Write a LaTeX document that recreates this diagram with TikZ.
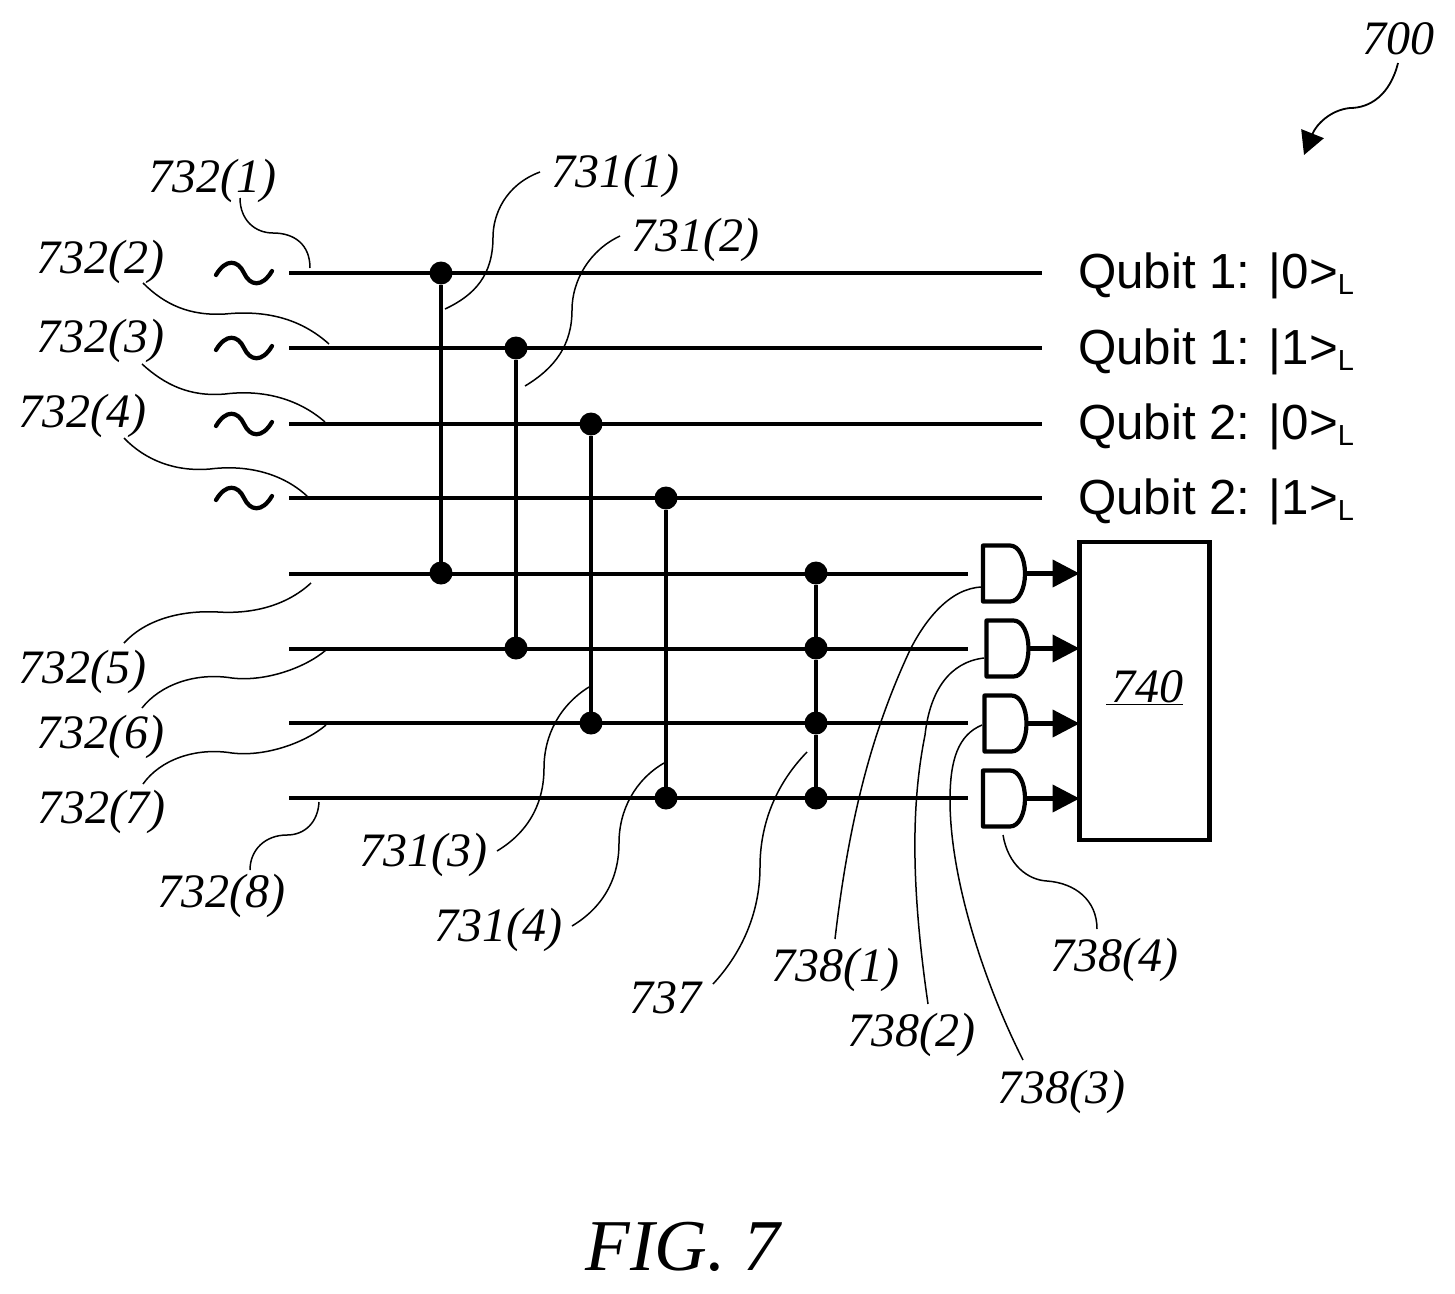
\documentclass[tikz,border=0pt]{standalone}
\usepackage{fontspec}
\setmainfont{Liberation Serif}
\newfontfamily\qubitfont{Liberation Sans}
\usetikzlibrary{arrows.meta}
\newcommand{\gatesym}[2]{%
  \node[gatebox] (#1) at (#2) {};
  \draw[wire, line join=round, shift={(#2)}] (-21,-28) -- (6,-28) .. controls (15,-28) and (21,-15) .. (21,0) .. controls (21,15) and (15,28) .. (6,28) -- (-21,28) -- cycle;}
\newcommand{\qubitlabel}[3]{\node[qtext] (#1) at (1078,#2) {#3\raisebox{-6pt}{\fontsize{29}{29}\selectfont L}};}
\begin{document}
\begin{tikzpicture}[x=1pt,y=-1pt,
  wire/.style={line width=4.2pt},
  leader/.style={line width=1.5pt},
  dotnode/.style={circle,fill=black,draw=none,minimum size=23pt,inner sep=0pt,outer sep=0pt},
  refl/.style={anchor=base,inner sep=0pt,outer sep=0pt,font=\fontsize{48}{48}\selectfont\itshape},
  qtext/.style={anchor=base west,inner sep=0pt,outer sep=0pt,font=\qubitfont\fontsize{49.3}{50}\selectfont},
  gatebox/.style={minimum width=42pt,minimum height=56pt,inner sep=0pt,outer sep=0pt},
  sigbox/.style={draw,line width=4.2pt,minimum width=130pt,minimum height=298pt,inner sep=0pt,outer sep=0pt},
  arrowout/.style={wire,-{Triangle[length=27pt,width=27pt]}},
]
\useasboundingbox[fill=white] (0,0) rectangle (1455,1293);
% wires
\foreach \n/\y/\xe in {1/273/1042,2/348/1042,3/424/1042,4/498/1042,5/574/968,6/649/968,7/723/968,8/798/968}{
  \coordinate (ws\n) at (289,\y);
  \coordinate (we\n) at (\xe,\y);
  \draw[wire] (ws\n) -- (we\n);
}
% tildes
\foreach \y in {273,348,424,498}{
  \draw[wire,line cap=round] (216,\y+2) .. controls (226,\y-15) and (238,\y-13) .. (244,\y) .. controls (250,\y+13) and (262,\y+15) .. (272,\y-2);
}
% dots and verticals
\node[dotnode] (a1) at (441,273) {};
\node[dotnode] (b1) at (441,573) {};
\node[dotnode] (a2) at (516,348) {};
\node[dotnode] (b2) at (516,648) {};
\node[dotnode] (a3) at (591,424) {};
\node[dotnode] (b3) at (591,723) {};
\node[dotnode] (a4) at (666,498) {};
\node[dotnode] (b4) at (666,798) {};
\node[dotnode] (m1) at (816,573) {};
\node[dotnode] (m2) at (816,648) {};
\node[dotnode] (m3) at (816,723) {};
\node[dotnode] (m4) at (816,798) {};
\draw[wire] (a1) -- (b1);
\draw[wire] (a2) -- (b2);
\draw[wire] (a3) -- (b3);
\draw[wire] (a4) -- (b4);
\draw[wire] (m1) -- (m2);
\draw[wire] (m2) -- (m3);
\draw[wire] (m3) -- (m4);
% gates and box
\gatesym{g1}{1004,573.5}
\gatesym{g2}{1007.5,648.5}
\gatesym{g3}{1005.5,723.5}
\gatesym{g4}{1004,798.5}
\node[sigbox] (box) at (1144.5,691) {};
\node[refl] (t740) at (1144.5,702) {\underline{\kern5pt 740}};
\draw[arrowout] (g1.east) -- (g1.east -| box.west);
\draw[arrowout] (g2.east) -- (g2.east -| box.west);
\draw[arrowout] (g3.east) -- (g3.east -| box.west);
\draw[arrowout] (g4.east) -- (g4.east -| box.west);
% qubit labels
\qubitlabel{q1}{288}{Qubit 1: |0>}
\qubitlabel{q2}{364}{Qubit 1: |1>}
\qubitlabel{q3}{439}{Qubit 2: |0>}
\qubitlabel{q4}{514}{Qubit 2: |1>}
% reference labels
\node[refl] (l321) at (212.5,192) {732(1)};
\node[refl] (l322) at (100.5,273) {732(2)};
\node[refl] (l323) at (100.5,352) {732(3)};
\node[refl] (l324) at (82,427) {732(4)};
\node[refl] (l325) at (82,683) {732(5)};
\node[refl] (l326) at (100.5,748) {732(6)};
\node[refl] (l327) at (101,823) {732(7)};
\node[refl] (l328) at (221,907) {732(8)};
\node[refl] (l311) at (615,187) {731(1)};
\node[refl] (l312) at (695.5,251) {731(2)};
\node[refl] (l313) at (423,866) {731(3)};
\node[refl] (l314) at (498.5,941) {731(4)};
\node[refl] (l737) at (665,1013) {737};
\node[refl] (l381) at (835.5,981) {738(1)};
\node[refl] (l382) at (911,1046) {738(2)};
\node[refl] (l383) at (1061,1103) {738(3)};
\node[refl] (l384) at (1114.5,971) {738(4)};
\node[refl] (l700) at (1398,54) {700};
\node[anchor=base,inner sep=0pt,font=\fontsize{73}{73}\selectfont\itshape] (fig) at (683,1270) {FIG. 7};
% leader end points
\coordinate (p1) at (240,198);  \coordinate (e1) at (310,268);
\coordinate (p2) at (143,283);  \coordinate (e2) at (329,344);
\coordinate (p3) at (142,364);  \coordinate (e3) at (325,422);
\coordinate (p4) at (124,438);  \coordinate (e4) at (308,497);
\coordinate (p5) at (124,643);  \coordinate (e5) at (311,583);
\coordinate (p6) at (142,708);  \coordinate (e6) at (326,650);
\coordinate (p7) at (143,784);  \coordinate (e7) at (326,725);
\coordinate (p8) at (250,870);  \coordinate (e8) at (319,802);
\coordinate (r1) at (540,172);  \coordinate (f1) at (445,309);
\coordinate (r2) at (620,236);  \coordinate (f2) at (525,386);
\coordinate (r3) at (497,851);  \coordinate (f3) at (589,687);
\coordinate (r4) at (572,926);  \coordinate (f4) at (664,763);
\coordinate (r7) at (713,984);  \coordinate (f7) at (807,752);
\coordinate (s1) at (835,939);  \coordinate (h1) at (982,587);
\coordinate (s2) at (928,1004); \coordinate (h2) at (984,658);
\coordinate (s3) at (1023,1060);\coordinate (h3) at (982,725);
\coordinate (s4) at (1097,929); \coordinate (h4) at (1003,835);
\coordinate (t0) at (1398,63);  \coordinate (h0) at (1304,155);
% leaders
\draw[leader] (p1) .. controls (240,220) and (255,233) .. (273,233) .. controls (295,233) and (310,245) .. (e1);
\draw[leader] (p2) .. controls (165,305) and (190,316) .. (225,314) .. controls (265,310) and (300,318) .. (e2);
\draw[leader] (p3) .. controls (165,385) and (190,397) .. (225,394) .. controls (265,389) and (300,400) .. (e3);
\draw[leader] (p4) .. controls (145,460) and (175,472) .. (210,469) .. controls (250,464) and (285,475) .. (e4);
\draw[leader] (e5) .. controls (285,607) and (250,614) .. (218,612) .. controls (180,610) and (145,620) .. (p5);
\draw[leader] (e6) .. controls (305,668) and (265,682) .. (232,678) .. controls (195,672) and (160,685) .. (p6);
\draw[leader] (e7) .. controls (305,743) and (265,757) .. (232,753) .. controls (195,747) and (160,760) .. (p7);
\draw[leader] (e8) .. controls (318,822) and (305,835) .. (287,835) .. controls (265,835) and (250,850) .. (p8);
\draw[leader] (r1) .. controls (505,185) and (493,215) .. (493,237) .. controls (493,275) and (475,295) .. (f1);
\draw[leader] (r2) .. controls (590,250) and (572,280) .. (572,310) .. controls (572,345) and (555,368) .. (f2);
\draw[leader] (f3) .. controls (560,705) and (544,735) .. (544,768) .. controls (544,805) and (527,833) .. (r3);
\draw[leader] (f4) .. controls (635,780) and (619,810) .. (619,843) .. controls (619,880) and (602,908) .. (r4);
\draw[leader] (f7) .. controls (775,785) and (760,825) .. (760,867) .. controls (760,915) and (740,955) .. (r7);
\draw[leader] (h1) .. controls (950,588) and (925,620) .. (910,650) .. controls (875,725) and (850,810) .. (s1);
\draw[leader] (h2) .. controls (950,662) and (930,690) .. (925,735) .. controls (912,800) and (910,880) .. (s2);
\draw[leader] (h3) .. controls (958,735) and (950,760) .. (950,800) .. controls (950,880) and (985,985) .. (s3);
\draw[leader] (h4) .. controls (1008,865) and (1028,880) .. (1047,881) .. controls (1075,883) and (1097,900) .. (s4);
\draw[leader,line width=1.8pt,-{Triangle[length=23pt,width=24pt]}] (t0) .. controls (1390,95) and (1370,108) .. (1350,108) .. controls (1330,110) and (1316,125) .. (h0);
\end{tikzpicture}
\end{document}
